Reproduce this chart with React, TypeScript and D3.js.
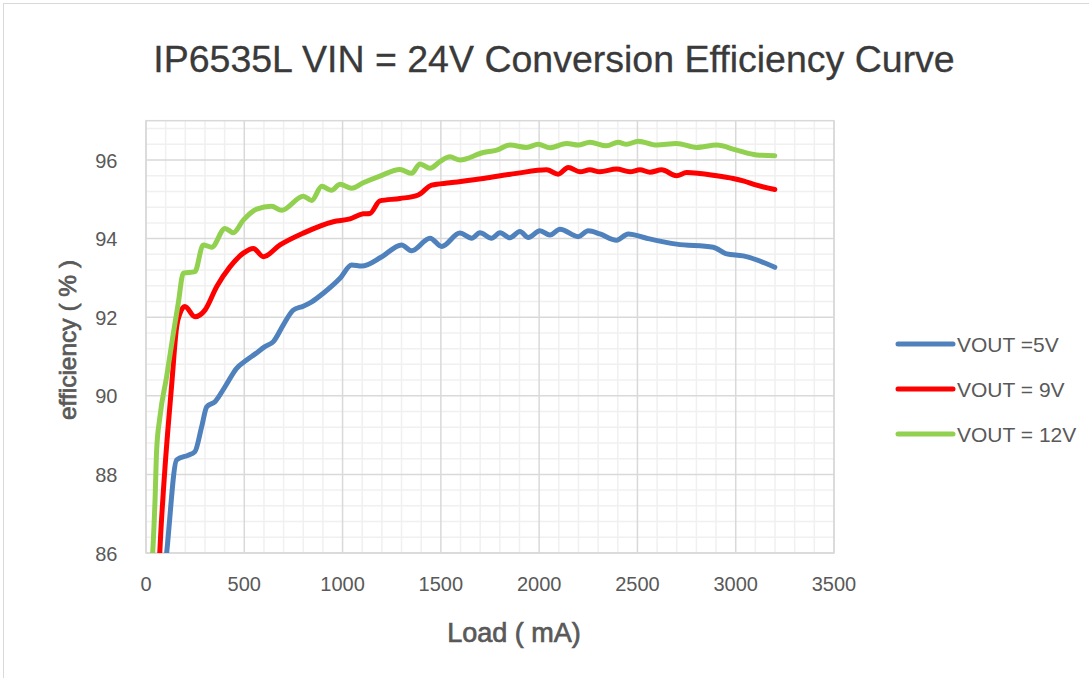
import { useEffect, useRef } from "react";
import * as d3 from "d3";

// VOUT = 5V
const load5V = [90, 105, 156, 215, 249, 283, 309, 351, 402, 461, 512, 554, 605, 648, 698, 749, 800, 843, 902, 987, 1046, 1097, 1200, 1300, 1351, 1445, 1504, 1597, 1657, 1699, 1758, 1801, 1851, 1902, 1945, 2004, 2055, 2106, 2199, 2250, 2309, 2394, 2453, 2547, 2699, 2886, 2954, 3038, 3199];
const eff5V = [85.3, 86.0, 88.37, 88.49, 88.58, 89.21, 89.72, 89.85, 90.23, 90.7, 90.91, 91.06, 91.25, 91.38, 91.8, 92.18, 92.28, 92.39, 92.61, 92.99, 93.33, 93.3, 93.54, 93.84, 93.69, 94.01, 93.8, 94.14, 94.01, 94.15, 94.01, 94.15, 94.02, 94.18, 94.03, 94.2, 94.09, 94.24, 94.05, 94.2, 94.12, 93.96, 94.12, 94.01, 93.86, 93.78, 93.61, 93.56, 93.27];

// VOUT = 9V
const load9V = [60, 75, 97, 131, 156, 173, 198, 249, 300, 360, 427, 495, 546, 597, 682, 800, 953, 1038, 1105, 1139, 1190, 1292, 1385, 1453, 1546, 1716, 1885, 2038, 2097, 2148, 2208, 2258, 2309, 2394, 2462, 2513, 2564, 2623, 2699, 2750, 2903, 2987, 3038, 3106, 3199];
const eff9V = [85.0, 86.5, 88.2, 90.3, 91.76, 92.1, 92.27, 92.01, 92.18, 92.78, 93.28, 93.63, 93.75, 93.54, 93.84, 94.14, 94.43, 94.5, 94.63, 94.64, 94.96, 95.02, 95.11, 95.36, 95.42, 95.53, 95.66, 95.75, 95.64, 95.81, 95.7, 95.75, 95.7, 95.77, 95.7, 95.75, 95.69, 95.75, 95.6, 95.68, 95.6, 95.53, 95.47, 95.36, 95.25];

// VOUT = 12V
const load12V = [30, 46, 54, 71, 105, 139, 164, 190, 249, 291, 334, 402, 444, 495, 563, 639, 690, 800, 843, 894, 944, 987, 1046, 1105, 1190, 1292, 1351, 1394, 1445, 1495, 1546, 1597, 1716, 1784, 1851, 1936, 1995, 2055, 2140, 2199, 2258, 2343, 2402, 2445, 2504, 2598, 2699, 2801, 2903, 3005, 3106, 3199];
const eff12V = [85.6, 87.35, 88.6, 89.47, 90.49, 91.59, 92.35, 93.12, 93.16, 93.84, 93.78, 94.26, 94.15, 94.47, 94.75, 94.82, 94.72, 95.08, 94.97, 95.33, 95.23, 95.38, 95.28, 95.42, 95.59, 95.76, 95.66, 95.9, 95.79, 95.96, 96.08, 96.0, 96.19, 96.25, 96.38, 96.32, 96.4, 96.31, 96.42, 96.38, 96.45, 96.36, 96.45, 96.4, 96.48, 96.38, 96.42, 96.32, 96.38, 96.25, 96.13, 96.11];

const seriesNames = ["VOUT =5V", "VOUT = 9V", "VOUT = 12V"];
const seriesColors = ["#4f81bd", "#ff0000", "#92d050"];
const xTicks = [0, 500, 1000, 1500, 2000, 2500, 3000, 3500];
const yTicks = [86, 88, 90, 92, 94, 96];

const App = () => {
  const chartRef = useRef<SVGSVGElement | null>(null);

  useEffect(() => {
    if (!chartRef.current) return;

    const width = 1089;
    const height = 678;
    const plot = { left: 146, right: 834, top: 120.7, bottom: 553 };
    const font = "'Liberation Sans', Arial, sans-serif";

    const svg = d3.select(chartRef.current).html("").attr("width", width).attr("height", height);

    svg.append("rect").attr("width", width).attr("height", height).attr("fill", "#fff");
    // outer chart border (only top and left are inside the picture)
    svg.append("rect")
      .attr("x", 3.5).attr("y", 3.5)
      .attr("width", width + 20).attr("height", height + 20)
      .attr("fill", "none").attr("stroke", "#d9d9d9").attr("stroke-width", 1);

    const xScale = d3.scaleLinear().domain([0, 3500]).range([plot.left, plot.right]);
    const yScale = d3.scaleLinear().domain([86, 97]).range([plot.bottom, plot.top]);

    // minor grid
    const grid = svg.append("g");
    grid.selectAll("line.vminor")
      .data(d3.range(100, 3500, 100).filter((v) => v % 500 !== 0))
      .join("line")
      .attr("x1", (d) => xScale(d)).attr("x2", (d) => xScale(d))
      .attr("y1", plot.top).attr("y2", plot.bottom)
      .attr("stroke", "#f0f0f0").attr("stroke-width", 1.5);
    grid.selectAll("line.hminor")
      .data(d3.range(0, 28).map((i) => 86 + i * 0.4).filter((v) => Math.abs(v - Math.round(v / 2) * 2) > 0.01))
      .join("line")
      .attr("x1", plot.left).attr("x2", plot.right)
      .attr("y1", (d) => yScale(d)).attr("y2", (d) => yScale(d))
      .attr("stroke", "#f0f0f0").attr("stroke-width", 1.5);

    // major grid
    grid.selectAll("line.vmajor")
      .data(xTicks)
      .join("line")
      .attr("x1", (d) => xScale(d)).attr("x2", (d) => xScale(d))
      .attr("y1", plot.top).attr("y2", plot.bottom)
      .attr("stroke", "#d9d9d9").attr("stroke-width", 1.5);
    grid.selectAll("line.hmajor")
      .data(yTicks)
      .join("line")
      .attr("x1", plot.left).attr("x2", plot.right)
      .attr("y1", (d) => yScale(d)).attr("y2", (d) => yScale(d))
      .attr("stroke", "#d9d9d9").attr("stroke-width", 1.5);

    svg.append("rect")
      .attr("x", plot.left).attr("y", plot.top)
      .attr("width", plot.right - plot.left).attr("height", plot.bottom - plot.top)
      .attr("fill", "none").attr("stroke", "#d9d9d9").attr("stroke-width", 1.5);

    // clip
    svg.append("clipPath").attr("id", "plot-clip")
      .append("rect")
      .attr("x", plot.left).attr("y", plot.top)
      .attr("width", plot.right - plot.left).attr("height", plot.bottom - plot.top);

    const series = [
      load5V.map((x, i) => [x, eff5V[i]] as [number, number]),
      load9V.map((x, i) => [x, eff9V[i]] as [number, number]),
      load12V.map((x, i) => [x, eff12V[i]] as [number, number]),
    ];

    const line = d3.line<[number, number]>()
      .x((d) => xScale(d[0]))
      .y((d) => yScale(d[1]))
      .curve(d3.curveMonotoneX);

    svg.append("g").attr("clip-path", "url(#plot-clip)")
      .selectAll("path")
      .data(series)
      .join("path")
      .attr("fill", "none")
      .attr("stroke", (_, i) => seriesColors[i])
      .attr("stroke-width", 5)
      .attr("stroke-linecap", "round")
      .attr("stroke-linejoin", "round")
      .attr("d", (d) => line(d));

    // tick labels
    svg.append("g").selectAll("text")
      .data(yTicks)
      .join("text")
      .attr("x", 117.5)
      .attr("y", (d) => yScale(d) + 7.5)
      .attr("text-anchor", "end")
      .attr("font-family", font).attr("font-size", 20).attr("fill", "#595959")
      .text((d) => d);

    svg.append("g").selectAll("text")
      .data(xTicks)
      .join("text")
      .attr("x", (d) => xScale(d))
      .attr("y", 591)
      .attr("text-anchor", "middle")
      .attr("font-family", font).attr("font-size", 20).attr("fill", "#595959")
      .text((d) => d);

    // titles
    svg.append("text")
      .attr("x", 554).attr("y", 72)
      .attr("text-anchor", "middle")
      .attr("font-family", font).attr("font-size", 37.5).attr("fill", "#3a3a3a")
      .attr("stroke", "#3a3a3a").attr("stroke-width", 0.3)
      .text("IP6535L VIN = 24V Conversion Efficiency Curve");

    // axis titles: semi-bold look via a thin stroke
    svg.append("text")
      .attr("x", 514).attr("y", 641.5)
      .attr("text-anchor", "middle")
      .attr("font-family", font).attr("font-size", 27).attr("fill", "#595959")
      .attr("stroke", "#595959").attr("stroke-width", 0.7)
      .text("Load ( mA)");

    svg.append("text")
      .attr("transform", "translate(76,340) rotate(-90)")
      .attr("text-anchor", "middle")
      .attr("font-family", font).attr("font-size", 24.5).attr("fill", "#595959")
      .attr("stroke", "#595959").attr("stroke-width", 0.7)
      .text("efficiency ( % )");

    // legend
    const legend = svg.append("g").selectAll("g")
      .data(seriesNames)
      .join("g")
      .attr("transform", (_, i) => `translate(0,${344 + i * 45})`);
    legend.append("line")
      .attr("x1", 898).attr("x2", 953)
      .attr("stroke", (_, i) => seriesColors[i])
      .attr("stroke-width", 5).attr("stroke-linecap", "round");
    legend.append("text")
      .attr("x", 957).attr("y", 7.5)
      .attr("font-family", font).attr("font-size", 21).attr("fill", "#595959")
      .text((d) => d);
  }, []);

  return <svg ref={chartRef} style={{ position: "absolute", left: 0, top: 0, display: "block" }}></svg>;
};

export default App;
